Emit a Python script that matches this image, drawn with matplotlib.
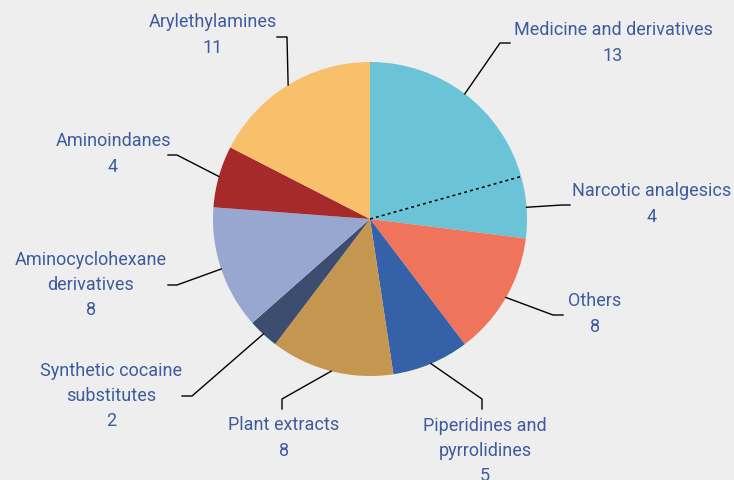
import numpy as np
import matplotlib.pyplot as plt

### categories and counts, clockwise from the top
labels = ['Medicine and derivatives', 'Narcotic analgesics', 'Others',
          'Piperidines and\npyrrolidines', 'Plant extracts',
          'Synthetic cocaine\nsubstitutes', 'Aminocyclohexane\nderivatives',
          'Aminoindanes', 'Arylethylamines']
counts = [13, 4, 8, 5, 8, 2, 8, 4, 11]
colours = ['#6AC3D6', '#6AC3D6', '#F0745B', '#3461A8', '#C59650',
           '#3C4D6F', '#97A7D0', '#A62A29', '#F8C06A']

### label centres and leader elbows (pixels, y down)
textpos = [(613, 43), (652, 204), (595, 314), (485, 451), (284, 438),
           (111, 396), (91, 285), (113, 154), (213, 35)]
elbows = [[(500, 44), (510, 44)], [(562, 206), (570, 206)],
          [(553, 316), (563, 316)], [(482, 400), (482, 410)],
          [(282, 400), (282, 410)], [(192, 397), (182, 397)],
          [(177, 286), (168, 286)], [(177, 156), (168, 156)],
          [(287, 38), (277, 38)]]

W, H = 734, 481
cx, cy, R = 370, H - 220, 157
txtcol = '#3D5C9E'

fig = plt.figure(figsize=(W / 100, H / 100), dpi=100, facecolor='#EEEEEE')
ax = fig.add_axes([0, 0, 1, 1])

wedges, _ = ax.pie(counts, colors=colours, startangle=90, counterclock=False,
                   center=(cx, cy), radius=R, frame=True,
                   wedgeprops=dict(linewidth=0))
ax.set_xlim(0, W)
ax.set_ylim(0, H)
ax.set_aspect('equal')
ax.axis('off')

### dotted split between medicine and narcotic analgesics
th = np.deg2rad(wedges[0].theta1)
ax.plot([cx, cx + R * np.cos(th)], [cy, cy + R * np.sin(th)],
        ls=(0, (2, 2)), color='black', lw=1.1, zorder=5)

for w, lab, n, tp, el in zip(wedges, labels, counts, textpos, elbows):
    mid = np.deg2rad((w.theta1 + w.theta2) / 2)
    xs = [cx + R * np.cos(mid)] + [p[0] for p in el]
    ys = [cy + R * np.sin(mid)] + [H - p[1] for p in el]
    ax.plot(xs, ys, color='black', lw=1, zorder=5)
    ax.text(tp[0], H - tp[1], f'{lab}\n{n}', ha='center', va='center',
            color=txtcol, fontsize=13, family='Roboto', linespacing=1.53)

fig.savefig('out.png', dpi=100, facecolor=fig.get_facecolor())
